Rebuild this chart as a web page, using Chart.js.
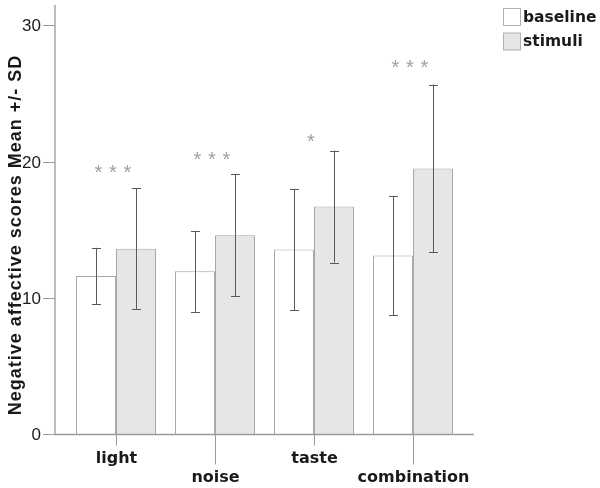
<!DOCTYPE html>
<html>
<head>
<meta charset="utf-8">
<script src="https://cdn.jsdelivr.net/npm/chart.js@4"></script>
<style>
    html, body { margin: 0; padding: 0; background: #fff; }
    #wrap { width: 600px; height: 488px; }
</style>
</head>
<body>
<div id="wrap"><canvas id="chart" width="600" height="488"></canvas></div>
<script>
// Data
const categories = ['light', 'noise', 'taste', 'combination'];
const baselineMean = [11.6, 11.95, 13.55, 13.1];
const baselineSD = [2.07, 2.97, 4.46, 4.39];
const stimuliMean = [13.6, 14.6, 16.7, 19.5];
const stimuliSD = [4.43, 4.48, 4.11, 6.16];
const significance = ['***', '***', '*', '***'];
const sigLevel = [19.4, 20.4, 21.7, 27.1];
const yTicks = [0, 10, 20, 30];

const axisColor = '#9a9a9a';
const textColor = '#1a1a1a';

// Axes, labels, legend, error bars and stars are drawn here
const decorations = {
    id: 'decorations',
    afterDatasetsDraw(chart) {
        const ctx = chart.ctx;
        const x = chart.scales.x;
        const y = chart.scales.y;
        const area = chart.chartArea;
        const axisX = area.left - 11.5;
        const axisEnd = area.right + 11.5;

        ctx.save();

        // error bars
        const sds = [baselineSD, stimuliSD];
        chart.data.datasets.forEach((ds, di) => {
            const meta = chart.getDatasetMeta(di);
            meta.data.forEach((bar, i) => {
                const top = y.getPixelForValue(ds.data[i] + sds[di][i]);
                const bottom = y.getPixelForValue(ds.data[i] - sds[di][i]);
                const cx = Math.round(bar.x) + 0.5;
                ctx.strokeStyle = '#5a5a5a';
                ctx.lineWidth = 1;
                ctx.beginPath();
                ctx.moveTo(cx, top);
                ctx.lineTo(cx, bottom);
                ctx.moveTo(cx - 4.5, Math.round(top) + 0.5);
                ctx.lineTo(cx + 4.5, Math.round(top) + 0.5);
                ctx.moveTo(cx - 4.5, Math.round(bottom) + 0.5);
                ctx.lineTo(cx + 4.5, Math.round(bottom) + 0.5);
                ctx.stroke();
            });
        });

        // significance stars
        ctx.fillStyle = '#a0a0a0';
        ctx.font = '20px "Liberation Sans"';
        ctx.textAlign = 'center';
        ctx.textBaseline = 'middle';
        categories.forEach((c, i) => {
            const cx = x.getPixelForValue(i) - 3;
            const cy = y.getPixelForValue(sigLevel[i]);
            const n = significance[i].length;
            for (let k = 0; k < n; k++) {
                ctx.fillText('*', cx + (k - (n - 1) / 2) * 14.5, cy + 4);
            }
        });

        // axis lines
        const zero = Math.round(y.getPixelForValue(0)) + 0.5;
        ctx.strokeStyle = axisColor;
        ctx.lineWidth = 1.3;
        ctx.beginPath();
        ctx.moveTo(axisX, area.top);
        ctx.lineTo(axisX, zero);
        ctx.lineTo(axisEnd, zero);
        ctx.stroke();

        // y ticks + labels
        ctx.lineWidth = 1;
        ctx.fillStyle = textColor;
        ctx.font = '17px "Liberation Sans"';
        ctx.textAlign = 'right';
        ctx.textBaseline = 'middle';
        yTicks.forEach(v => {
            const py = Math.round(y.getPixelForValue(v)) + 0.5;
            ctx.beginPath();
            ctx.moveTo(axisX - 12, py);
            ctx.lineTo(axisX, py);
            ctx.stroke();
            ctx.fillText(String(v), axisX - 14, py + 1);
        });

        // x ticks + staggered labels
        ctx.font = 'bold 16px "DejaVu Sans"';
        ctx.textAlign = 'center';
        categories.forEach((c, i) => {
            const px = Math.round(x.getPixelForValue(i)) + 0.5;
            const low = i % 2 === 1;
            ctx.beginPath();
            ctx.moveTo(px, zero);
            ctx.lineTo(px, zero + (low ? 30 : 11));
            ctx.stroke();
            ctx.fillText(c, px, zero + (low ? 43 : 24));
        });

        // y title
        ctx.save();
        ctx.translate(16, 235);
        ctx.rotate(-Math.PI / 2);
        ctx.font = 'bold 18px "Liberation Sans"';
        ctx.letterSpacing = '1px';
        ctx.fillText('Negative affective scores Mean +/- SD', 0, 0);
        ctx.restore();

        // legend
        ctx.font = 'bold 15.5px "DejaVu Sans"';
        ctx.textAlign = 'left';
        chart.data.datasets.forEach((ds, di) => {
            const ly = 8 + di * 24.5;
            ctx.fillStyle = ds.backgroundColor;
            ctx.fillRect(503.5, ly + 0.5, 17, 17);
            ctx.strokeStyle = '#b0b0b0';
            ctx.strokeRect(503.5, ly + 0.5, 17, 17);
            ctx.fillStyle = textColor;
            ctx.fillText(ds.label, 523, ly + 9.5);
        });

        ctx.restore();
    }
};

new Chart(document.getElementById('chart'), {
    type: 'bar',
    data: {
        labels: categories,
        datasets: [
            {
                label: 'baseline',
                data: baselineMean,
                backgroundColor: '#ffffff',
                borderColor: '#a8a8a8',
                borderWidth: 1
            },
            {
                label: 'stimuli',
                data: stimuliMean,
                backgroundColor: '#e6e6e6',
                borderColor: '#a8a8a8',
                borderWidth: 1
            }
        ]
    },
    options: {
        responsive: false,
        animation: false,
        layout: {
            padding: { left: 66.5, right: 137.5, top: 5, bottom: 54 }
        },
        datasets: {
            bar: { categoryPercentage: 80 / 99, barPercentage: 1 }
        },
        plugins: {
            legend: { display: false },
            tooltip: { enabled: false }
        },
        scales: {
            x: { display: false, offset: true },
            y: { display: false, min: 0, max: 31.5 }
        }
    },
    plugins: [decorations]
});
</script>
</body>
</html>
